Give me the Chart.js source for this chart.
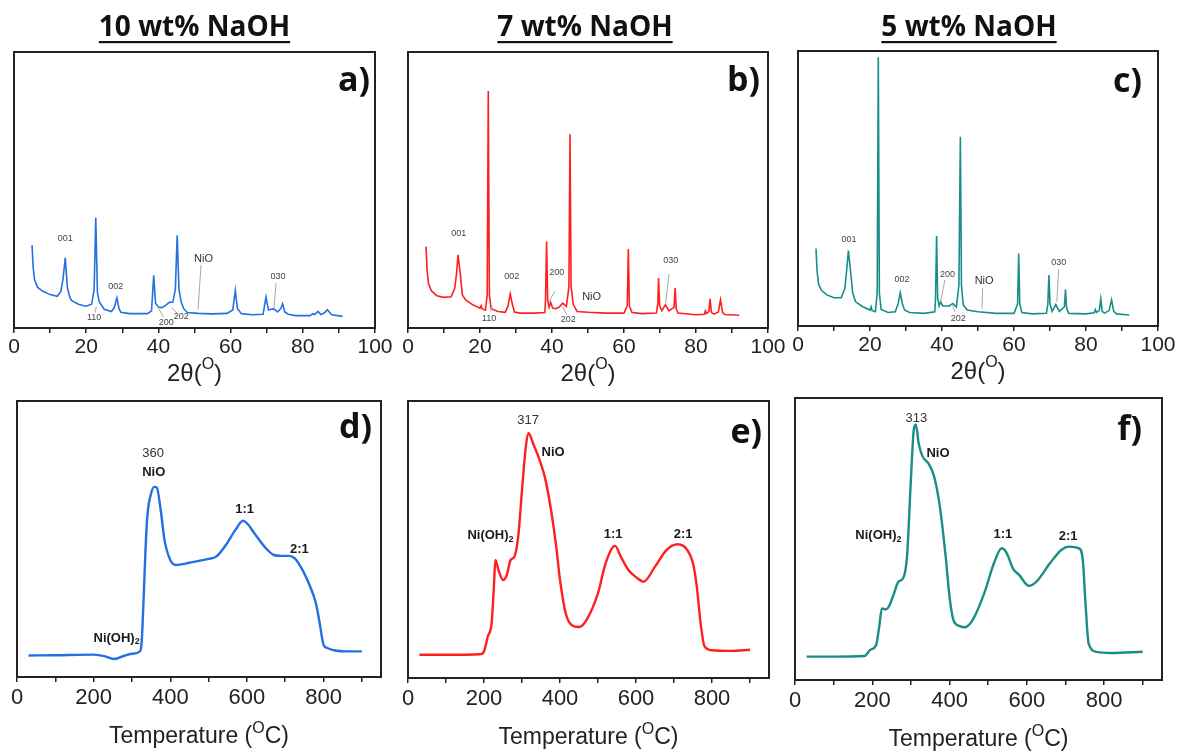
<!DOCTYPE html>
<html lang="en">
<head>
<meta charset="UTF-8">
<title>XRD and TPR of NaOH-treated samples</title>
<script src="https://cdn.jsdelivr.net/npm/chart.js@4"></script>
<style>
  body { margin: 0; background: #fff; }
  #fig { position: relative; width: 1184px; height: 751px; overflow: hidden; background: #fff; }
  canvas { position: absolute; }
</style>
</head>
<body>
<div id="fig">
  <canvas id="pa" width="395" height="390" style="left:0;top:0"></canvas>
  <canvas id="pb" width="395" height="390" style="left:395px;top:0"></canvas>
  <canvas id="pc" width="399" height="390" style="left:785px;top:0"></canvas>
  <canvas id="pd" width="400" height="361" style="left:0;top:390px"></canvas>
  <canvas id="pe" width="400" height="361" style="left:390px;top:390px"></canvas>
  <canvas id="pf" width="404" height="361" style="left:780px;top:390px"></canvas>
</div>

<script>
// ---- XRD data (2theta in degrees, intensity in a.u. scaled 0-100) ----
const xrd10Theta = [5, 5.3, 5.7, 6.5, 8, 10, 12, 13, 13.6, 14.2, 14.8, 15.5, 16, 18, 20, 21.5, 22.2, 22.65, 23.1, 23.6, 25, 27, 27.8, 28.5, 29.1, 29.6, 32, 37, 38.1, 38.7, 39.2, 40, 41, 42, 43, 44, 44.7, 45.2, 45.7, 46.3, 47, 48, 51, 55, 59, 60.6, 61.3, 61.9, 63, 66, 69, 69.8, 70.5, 71.3, 72, 73, 73.9, 74.4, 75, 76, 78, 82, 82.8, 83.3, 84.2, 85, 86, 86.8, 88, 91];
const xrd10Int   = [30, 22, 17.5, 14.8, 13.3, 12.1, 11.5, 13.3, 18, 25.4, 14.5, 11, 9.9, 8.5, 7.9, 8.6, 14, 39.9, 13, 9.5, 6.8, 6, 7.5, 10.9, 7, 5.7, 5.2, 5.2, 6.2, 19.1, 9, 7.6, 7.4, 8.2, 9.3, 9.4, 14, 33.6, 14, 9.5, 7, 5.6, 5.3, 5.1, 5.3, 6.5, 13.6, 7, 5.2, 4.8, 5, 11.2, 6.5, 6.8, 6.9, 5.8, 7, 8.8, 5.8, 5, 4.5, 4.5, 5.2, 4.9, 6, 4.9, 5.5, 6.6, 4.8, 4.2];

const xrd7Theta = [5, 5.3, 5.7, 6.5, 8, 10, 12, 13, 13.5, 13.9, 14.5, 15.1, 16, 18, 20, 20.3, 20.6, 21.5, 22, 22.3, 22.6, 23.1, 25, 27, 27.8, 28.4, 29, 29.6, 31, 35, 38, 38.2, 38.5, 38.8, 39.2, 39.6, 40.2, 41, 42, 43, 44, 44.7, 45, 45.3, 45.9, 47, 50, 55, 60, 60.9, 61.2, 61.5, 62.2, 65, 69, 69.4, 69.6, 69.9, 70.5, 71.5, 72.5, 73.9, 74.2, 74.5, 75, 80, 82.3, 82.6, 82.9, 83.6, 83.9, 84.3, 85, 86.2, 86.8, 87.4, 88, 92];
const xrd7Int   = [29.5, 21, 16, 13.5, 11.7, 11.1, 11.3, 14.5, 20, 26.5, 20, 12, 10.2, 8.4, 7.2, 8.1, 6.9, 6.5, 12, 85.9, 12, 7, 6, 5.7, 8, 12.4, 8.5, 5.8, 5.4, 5.4, 5.6, 10, 31.3, 10, 7.5, 9.3, 7.2, 7, 7.6, 9, 7.8, 15, 70.2, 15, 8.5, 6, 5.7, 5.4, 5.4, 8, 28.6, 8, 5.6, 5.2, 5.4, 9, 18.1, 8, 6.3, 8.4, 6.2, 7.5, 14.5, 7, 5.4, 4.8, 5, 6.2, 5.2, 6, 10.6, 5.6, 5, 5.8, 10.2, 5.6, 4.9, 4.6];

const xrd5Theta = [5, 5.3, 5.7, 6.5, 8, 10, 12, 13, 13.5, 14, 14.6, 15.2, 16, 18, 20, 20.3, 20.6, 21.5, 22, 22.3, 22.6, 23.1, 25, 27, 27.8, 28.4, 29, 29.6, 31, 35, 38, 38.2, 38.5, 38.8, 39.2, 39.6, 40.2, 42, 43, 44, 44.7, 45.1, 45.4, 45.9, 47, 50, 55, 60, 61, 61.3, 61.6, 62.2, 65, 69, 69.4, 69.7, 70, 70.6, 71.6, 72.6, 74, 74.3, 74.6, 75.2, 80, 82.3, 82.6, 82.9, 83.7, 84.1, 84.5, 85.2, 86.4, 87.1, 87.7, 88.5, 92];
const xrd5Int   = [28.2, 20, 15.3, 13, 11.3, 10.3, 10.3, 13.5, 20, 27.4, 20, 12, 8.8, 7, 5.8, 7, 5.6, 5.2, 12, 97.7, 12, 6, 4.9, 5.2, 8, 12.1, 8, 5.8, 4.9, 4.6, 5.2, 10, 32.7, 10, 7.3, 8.8, 7.3, 7.3, 8.2, 6.9, 15, 68.8, 15, 7.7, 5.8, 5.2, 4.6, 4.6, 8, 26.4, 8, 4.9, 4.4, 4.6, 8, 18.5, 8, 5.3, 7.8, 5.3, 7, 13.3, 6.5, 4.6, 4.4, 4.8, 6, 5, 5.6, 9.8, 5.3, 4.7, 5.6, 9.5, 5.3, 4.4, 4];

// ---- TPR data (temperature in degC, signal in a.u. scaled 0-100) ----
const tpr10Temp = [30, 100, 200, 230, 255, 280, 300, 320, 325, 330, 335, 340, 350, 358, 365, 375, 385, 400, 415, 450, 500, 520, 545, 570, 590, 600, 620, 650, 670, 690, 710, 725, 745, 765, 780, 790, 800, 810, 830, 860, 900];
const tpr10Sig  = [7.8, 7.9, 8.1, 7.5, 6.5, 7.7, 8.4, 9.2, 12, 26.7, 44.8, 58, 66.5, 68.9, 68.6, 60.5, 49.6, 42.4, 40.6, 41.4, 42.8, 43.6, 47.8, 53.3, 56.6, 55.7, 52, 46.6, 44.2, 43.9, 43.9, 43, 38.8, 32.8, 26.7, 19.5, 11.7, 10.5, 9.6, 9.3, 9.3];

const tpr7Temp = [30, 100, 190, 200, 210, 220, 226, 230, 238, 250, 260, 270, 280, 290, 300, 310, 317, 330, 345, 360, 375, 390, 400, 415, 430, 450, 470, 500, 520, 545, 560, 580, 600, 620, 650, 680, 710, 735, 750, 760, 770, 780, 800, 850, 900];
const tpr7Sig  = [8.4, 8.4, 8.6, 9.6, 15, 19.8, 33, 42.6, 39, 35.4, 37.2, 42.6, 43.8, 51, 67.8, 83.4, 88.5, 84.4, 79.2, 72.6, 61.8, 47.4, 35.4, 23.4, 19.2, 18.4, 21, 30.6, 41.4, 47.7, 43.8, 39, 36.4, 34.8, 40.2, 46.2, 48.3, 46.2, 41.4, 33, 19.8, 11.6, 10, 9.8, 10.2];

const tpr5Temp = [30, 100, 180, 195, 210, 218, 225, 235, 245, 255, 268, 280, 290, 300, 308, 313, 320, 330, 345, 360, 375, 390, 400, 410, 425, 440, 460, 490, 515, 535, 548, 565, 580, 605, 625, 660, 690, 710, 735, 745, 752, 760, 780, 820, 900];
const tpr5Sig  = [8.3, 8.3, 8.5, 10.7, 12.4, 18.9, 25.4, 25, 26.6, 30.2, 34.9, 36.1, 43.8, 71, 89.3, 90.5, 84, 79.3, 76.9, 72.2, 61.5, 43.8, 29.6, 21.3, 19.2, 18.7, 21.3, 30.8, 41.4, 46.7, 45, 39.3, 37.3, 33.4, 34.9, 41.4, 46.2, 47.3, 46.7, 42.6, 27.2, 13, 10, 9.6, 10];

// ---- peak annotations (data coordinates) ----
const xrd10Tags = [
  { t: '001', x: 14.2, y: 32.6 }, { t: '002', x: 28.2, y: 15.1 }, { t: '110', x: 22.2, y: 3.9 },
  { t: '200', x: 42.2, y: 1.9 }, { t: '202', x: 46.3, y: 4.1 }, { t: 'NiO', x: 52.5, y: 25, big: true },
  { t: '030', x: 73.1, y: 18.5 }
];
const xrd10Leaders = [[22.5, 5.6, 22.8, 7.8], [41.4, 3.9, 39.7, 8.0], [45.2, 5.3, 43.6, 7.5], [51.8, 22.9, 51.0, 6.6], [72.6, 16.3, 72.0, 7.2]];

const xrd7Tags = [
  { t: '001', x: 14.1, y: 34.1 }, { t: '002', x: 28.8, y: 18.7 }, { t: '110', x: 22.5, y: 3.6 },
  { t: '200', x: 41.3, y: 20.1 }, { t: '202', x: 44.5, y: 3.0 }, { t: 'NiO', x: 51.0, y: 11.2, big: true },
  { t: '030', x: 73.0, y: 24.3 }
];
const xrd7Leaders = [[23.0, 6.0, 23.4, 7.8], [40.8, 13.3, 39.2, 9.6], [44.1, 4.8, 43.0, 7.6], [72.5, 19.6, 71.6, 9.0]];

const xrd5Tags = [
  { t: '001', x: 14.2, y: 31.3 }, { t: '002', x: 28.9, y: 17.0 }, { t: '200', x: 41.5, y: 18.9 },
  { t: '202', x: 44.5, y: 2.8 }, { t: 'NiO', x: 51.7, y: 16.4, big: true }, { t: '030', x: 72.4, y: 23.0 }
];
const xrd5Leaders = [[40.8, 16.7, 39.6, 8.8], [43.6, 5.2, 42.9, 7.6], [51.3, 13.7, 51.1, 6.4], [72.4, 20.6, 71.9, 8.8]];

const tpr10Tags = [
  { t: '360', x: 355, y: 81 }, { t: 'NiO', x: 357, y: 74, bold: true }, { t: '1:1', x: 594, y: 60.7, bold: true },
  { t: '2:1', x: 737, y: 46.3, bold: true }, { t: 'Ni(OH)_2', x: 260, y: 14.1, bold: true }
];
const tpr7Tags = [
  { t: '317', x: 316, y: 93 }, { t: 'NiO', x: 382, y: 81.4, bold: true }, { t: 'Ni(OH)_2', x: 217, y: 51.4, bold: true },
  { t: '1:1', x: 540, y: 52, bold: true }, { t: '2:1', x: 724, y: 52, bold: true }
];
const tpr5Tags = [
  { t: '313', x: 314, y: 92.9 }, { t: 'NiO', x: 370, y: 80.2, bold: true }, { t: 'Ni(OH)_2', x: 216, y: 51.2, bold: true },
  { t: '1:1', x: 538, y: 51.7, bold: true }, { t: '2:1', x: 707, y: 50.9, bold: true }
];

const SANS = '"Liberation Sans", Arial, sans-serif';
const HEAD = '"Open Sans", sans-serif';

// split 'Ni(OH)_2' / '2θ(^O)' into normal, sub and superscript parts
function richParts(str) {
  const out = [];
  str.split(/([_^].)/).forEach(s => {
    if (!s) return;
    if (s[0] === '_') out.push({ t: s[1], shift: 1 });
    else if (s[0] === '^') out.push({ t: s[1], shift: -1 });
    else out.push({ t: s, shift: 0 });
  });
  return out;
}

function drawRich(ctx, str, cx, cy, size, weight, family, color) {
  const parts = richParts(str);
  const fontOf = p => `${weight} ${p.shift ? Math.round(size * 0.68) : size}px ${family}`;
  let w = 0;
  parts.forEach(p => { ctx.font = fontOf(p); p.w = ctx.measureText(p.t).width; w += p.w; });
  let x = cx - w / 2;
  ctx.fillStyle = color;
  ctx.textAlign = 'left';
  ctx.textBaseline = 'middle';
  parts.forEach(p => {
    ctx.font = fontOf(p);
    ctx.fillText(p.t, x, cy + p.shift * size * (p.shift > 0 ? 0.3 : 0.38));
    x += p.w;
  });
  return w;
}

// frame, annotations, panel letter, titles
const panelDecor = {
  id: 'panelDecor',
  afterDraw(chart, args, o) {
    const { ctx, chartArea: a, scales: { x, y } } = chart;
    ctx.save();
    ctx.strokeStyle = '#222';
    ctx.lineWidth = 2;
    ctx.strokeRect(a.left, a.top, a.right - a.left, a.bottom - a.top);

    ctx.strokeStyle = '#a8a8a8';
    ctx.lineWidth = 1;
    (o.leaders || []).forEach(l => {
      ctx.beginPath();
      ctx.moveTo(x.getPixelForValue(l[0]), y.getPixelForValue(l[1]));
      ctx.lineTo(x.getPixelForValue(l[2]), y.getPixelForValue(l[3]));
      ctx.stroke();
    });

    (o.tags || []).forEach(tg => {
      const px = x.getPixelForValue(tg.x), py = y.getPixelForValue(tg.y);
      if (o.kind === 'xrd') {
        drawRich(ctx, tg.t, px, py, tg.big ? 11 : 9, 'normal', SANS, tg.big ? '#333' : '#444');
      } else {
        drawRich(ctx, tg.t, px, py, 13, tg.bold ? 'bold' : 'normal', SANS, tg.bold ? '#1a1a1a' : '#333');
      }
    });

    ctx.font = `bold 34px ${HEAD}`;
    ctx.fillStyle = '#111';
    ctx.textAlign = 'right';
    ctx.textBaseline = 'middle';
    ctx.fillText(o.letter, a.right - o.letterInset, a.top + o.letterDy);

    const cx = (a.left + a.right) / 2;
    drawRich(ctx, o.axisTitle, cx, a.bottom + o.axisTitleDy, o.axisTitleSize, 'normal', SANS, '#222');

    if (o.title) {
      ctx.font = `bold 28px ${HEAD}`;
      ctx.fillStyle = '#111';
      ctx.textAlign = 'center';
      ctx.textBaseline = 'middle';
      const tx = cx + o.titleDx;
      ctx.fillText(o.title, tx, 28);
      const w = ctx.measureText(o.title).width;
      ctx.fillRect(tx - w / 2, 41, w, 2.2);
    }
    ctx.restore();
  }
};

function pts(xs, ys) {
  return xs.map((v, i) => ({ x: v, y: ys[i] }));
}

function makePanel(id, p) {
  const isXrd = p.kind === 'xrd';
  new Chart(document.getElementById(id), {
    type: 'line',
    data: {
      datasets: [{
        data: pts(p.xs, p.ys),
        borderColor: p.color,
        borderWidth: isXrd ? 1.6 : 2.4,
        pointRadius: 0,
        fill: false,
        tension: 0,
        cubicInterpolationMode: isXrd ? 'default' : 'monotone'
      }]
    },
    options: {
      responsive: false,
      animation: false,
      devicePixelRatio: 1,
      layout: { padding: { left: p.padL, right: p.padR, top: p.padT, bottom: 0 } },
      plugins: {
        legend: { display: false },
        tooltip: { enabled: false },
        panelDecor: {
          kind: p.kind, tags: p.tags, leaders: p.leaders || [],
          letter: p.letter, letterInset: p.letterInset, letterDy: p.letterDy,
          title: p.title, titleDx: p.titleDx || 0,
          axisTitle: isXrd ? '2θ(^O)' : 'Temperature (^OC)',
          axisTitleDy: isXrd ? 46 : 60,
          axisTitleSize: isXrd ? 24 : 23
        }
      },
      scales: {
        x: {
          type: 'linear',
          min: 0,
          max: isXrd ? 100 : 950,
          afterFit: s => { s.height = p.axisH; },
          border: { display: false },
          grid: { drawOnChartArea: false, drawTicks: true, tickLength: 5, color: '#222', lineWidth: 1.5 },
          ticks: {
            stepSize: isXrd ? 10 : 100,
            includeBounds: false,
            autoSkip: false,
            maxRotation: 0,
            padding: isXrd ? 2 : 3,
            color: '#222',
            font: { family: SANS, size: isXrd ? 21 : 22 },
            callback: v => (v % (isXrd ? 20 : 200) === 0 ? v : '')
          }
        },
        y: { display: false, min: 0, max: 100 }
      }
    },
    plugins: [panelDecor]
  });
}

makePanel('pa', { kind: 'xrd', xs: xrd10Theta, ys: xrd10Int, color: '#2470e3', tags: xrd10Tags, leaders: xrd10Leaders,
  letter: 'a)', letterInset: 5, letterDy: 29, title: '10 wt% NaOH', padL: 14, padR: 20, padT: 52, axisH: 62 });
makePanel('pb', { kind: 'xrd', xs: xrd7Theta, ys: xrd7Int, color: '#ff1f1f', tags: xrd7Tags, leaders: xrd7Leaders,
  letter: 'b)', letterInset: 8, letterDy: 29, title: '7 wt% NaOH', titleDx: -3, padL: 13, padR: 22, padT: 52, axisH: 62 });
makePanel('pc', { kind: 'xrd', xs: xrd5Theta, ys: xrd5Int, color: '#178f88', tags: xrd5Tags, leaders: xrd5Leaders,
  letter: 'c)', letterInset: 16, letterDy: 31, title: '5 wt% NaOH', titleDx: -9, padL: 13, padR: 26, padT: 51, axisH: 64 });
makePanel('pd', { kind: 'tpr', xs: tpr10Temp, ys: tpr10Sig, color: '#2470e3', tags: tpr10Tags,
  letter: 'd)', letterInset: 9, letterDy: 27, padL: 17, padR: 19, padT: 11, axisH: 74 });
makePanel('pe', { kind: 'tpr', xs: tpr7Temp, ys: tpr7Sig, color: '#ff1f1f', tags: tpr7Tags,
  letter: 'e)', letterInset: 7, letterDy: 32, padL: 18, padR: 21, padT: 11, axisH: 73 });
makePanel('pf', { kind: 'tpr', xs: tpr5Temp, ys: tpr5Sig, color: '#178f88', tags: tpr5Tags,
  letter: 'f)', letterInset: 20, letterDy: 32, padL: 15, padR: 22, padT: 8, axisH: 71 });
</script>
</body>
</html>
